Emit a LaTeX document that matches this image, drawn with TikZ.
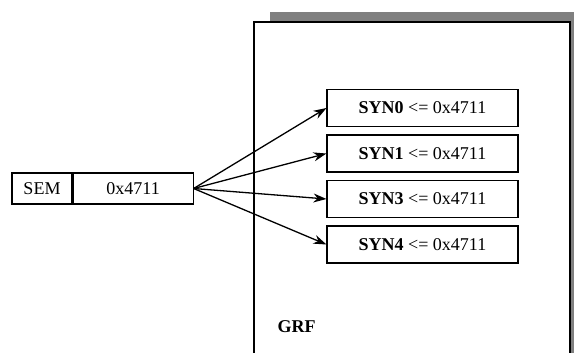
\documentclass[tikz,border=0pt]{standalone}
\usepackage{fontspec}
\setmainfont{Liberation Serif}
\usetikzlibrary{arrows.meta}

\begin{document}
\begin{tikzpicture}[
  x=1pt, y=-1pt,
  font=\fontsize{18}{21}\selectfont,
  cell/.style={draw, line width=1.1pt, minimum height=31pt, inner sep=0pt},
  synbox/.style={draw, line width=1.1pt, minimum width=191pt, minimum height=37pt, inner sep=0pt},
  link/.style={line width=1.3pt, -{Stealth[length=13pt,width=9pt]}}
]
\useasboundingbox (0,0) rectangle (574,353);
\clip (0,0) rectangle (574,353);
% register block with shadow
\fill[black!50] (270,12) rectangle (590,370);
\fill[white] (254,22) rectangle (570,370);
\draw[line width=1.4pt] (254,370) -- (254,22) -- (570,22) -- (570,370);
\node[font=\fontsize{18}{21}\selectfont\bfseries, anchor=west] (grf) at (274,327) {GRF};
% semaphore
\node[cell, minimum width=60pt] (sem) at (42,188.5) {SEM};
\node[cell, minimum width=120pt, anchor=west] (val) at (sem.east) {0x4711};
% sync registers
\foreach \k/\y in {0/108,1/153.5,3/199,4/244.5} {
  \node[synbox] (syn\k) at (422.5,\y) {\textbf{SYN\k} <= 0x4711};
  \draw[link] (val.east) -- (syn\k.west);
}
\end{tikzpicture}
\end{document}
